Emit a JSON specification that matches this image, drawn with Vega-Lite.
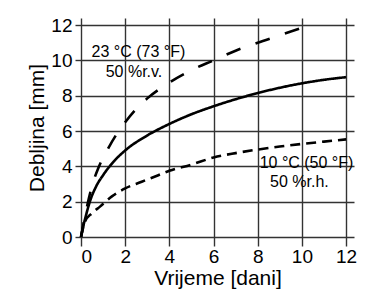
{
  "$schema": "https://vega.github.io/schema/vega-lite/v6.json",
  "autosize": {"type": "none"},
  "width": 273,
  "height": 219,
  "padding": {"left": 81, "top": 18, "right": 25, "bottom": 59},
  "background": "white",
  "config": {
    "view": {"stroke": null},
    "font": "Liberation Sans",
    "axis": {
      "domain": false,
      "grid": true,
      "gridColor": "#333333",
      "gridWidth": 1.4,
      "gridOpacity": 1,
      "tickColor": "#333333",
      "tickWidth": 1.4,
      "labelOverlap": false,
      "labelFont": "Liberation Sans",
      "labelFontSize": 19,
      "labelColor": "black",
      "titleFont": "Liberation Sans",
      "titleFontSize": 21,
      "titleFontWeight": "normal",
      "titleColor": "black"
    }
  },
  "datasets": {
    "curves": [
      {"series": "23C", "x": 0, "y": 0},
      {"series": "23C", "x": 0.25, "y": 1.6},
      {"series": "23C", "x": 0.5, "y": 2.9},
      {"series": "23C", "x": 0.8, "y": 3.95},
      {"series": "23C", "x": 1.2, "y": 4.95},
      {"series": "23C", "x": 1.6, "y": 5.8},
      {"series": "23C", "x": 2, "y": 6.5},
      {"series": "23C", "x": 2.5, "y": 7.25},
      {"series": "23C", "x": 3, "y": 7.85},
      {"series": "23C", "x": 3.6, "y": 8.42},
      {"series": "23C", "x": 4, "y": 8.75},
      {"series": "23C", "x": 5, "y": 9.45},
      {"series": "23C", "x": 6, "y": 10.0},
      {"series": "23C", "x": 7, "y": 10.55},
      {"series": "23C", "x": 8, "y": 11.0},
      {"series": "23C", "x": 9, "y": 11.42},
      {"series": "23C", "x": 10, "y": 11.85},
      {"series": "23C", "x": 10.5, "y": 12.05},
      {"series": "mid", "x": 0, "y": 0},
      {"series": "mid", "x": 0.1, "y": 0.6},
      {"series": "mid", "x": 0.2, "y": 1.1},
      {"series": "mid", "x": 0.4, "y": 2.0},
      {"series": "mid", "x": 0.7, "y": 2.9},
      {"series": "mid", "x": 1, "y": 3.5},
      {"series": "mid", "x": 1.5, "y": 4.3},
      {"series": "mid", "x": 2, "y": 4.9},
      {"series": "mid", "x": 3, "y": 5.75},
      {"series": "mid", "x": 4, "y": 6.4},
      {"series": "mid", "x": 5, "y": 6.95},
      {"series": "mid", "x": 6, "y": 7.4},
      {"series": "mid", "x": 7, "y": 7.8},
      {"series": "mid", "x": 8, "y": 8.15},
      {"series": "mid", "x": 9, "y": 8.45},
      {"series": "mid", "x": 10, "y": 8.7},
      {"series": "mid", "x": 11, "y": 8.9},
      {"series": "mid", "x": 12, "y": 9.05},
      {"series": "10C", "x": 0, "y": 0},
      {"series": "10C", "x": 0.18, "y": 0.87},
      {"series": "10C", "x": 0.5, "y": 1.35},
      {"series": "10C", "x": 0.86, "y": 1.72},
      {"series": "10C", "x": 1.4, "y": 2.3},
      {"series": "10C", "x": 2, "y": 2.75},
      {"series": "10C", "x": 2.75, "y": 3.13},
      {"series": "10C", "x": 3.5, "y": 3.5},
      {"series": "10C", "x": 4, "y": 3.75},
      {"series": "10C", "x": 5, "y": 4.1},
      {"series": "10C", "x": 6, "y": 4.5},
      {"series": "10C", "x": 7, "y": 4.75},
      {"series": "10C", "x": 8, "y": 4.95},
      {"series": "10C", "x": 9, "y": 5.12},
      {"series": "10C", "x": 10, "y": 5.27},
      {"series": "10C", "x": 11, "y": 5.4},
      {"series": "10C", "x": 12, "y": 5.53}
    ],
    "notes": [
      {"x": 2.6, "y": 10.19, "label": "23 °C (73 °F)"},
      {"x": 2.4, "y": 9.06, "label": "50 %r.v."},
      {"x": 10.21, "y": 3.91, "label": "10 °C (50 °F)"},
      {"x": 9.89, "y": 2.83, "label": "50 %r.h."}
    ]
  },
  "encoding": {
    "x": {
      "field": "x", "type": "quantitative",
      "scale": {"domain": [0, 12.36], "nice": false, "zero": false},
      "axis": {"values": [0, 2, 4, 6, 8, 10, 12], "title": "Vrijeme [dani]", "tickSize": 9, "labelPadding": 1, "titlePadding": 1}
    },
    "y": {
      "field": "y", "type": "quantitative",
      "scale": {"domain": [0, 12.4], "nice": false, "zero": false},
      "axis": {"values": [0, 2, 4, 6, 8, 10, 12], "title": "Debljina [mm]", "tickSize": 6, "labelPadding": 3, "titlePadding": 3}
    }
  },
  "layer": [
    {
      "data": {"name": "curves"},
      "mark": {"type": "line", "color": "black", "strokeWidth": 2.6, "strokeCap": "butt", "interpolate": "monotone"},
      "encoding": {
        "detail": {"field": "series"},
        "strokeDash": {
          "field": "series", "type": "nominal",
          "scale": {"domain": ["23C", "mid", "10C"], "range": [[15, 16], [1, 0], [10, 6]]},
          "legend": null
        }
      }
    },
    {
      "data": {"name": "notes"},
      "mark": {"type": "text", "font": "Liberation Sans", "fontSize": 16, "color": "black", "align": "center", "baseline": "alphabetic"},
      "encoding": {
        "text": {"field": "label"}
      }
    }
  ]
}
